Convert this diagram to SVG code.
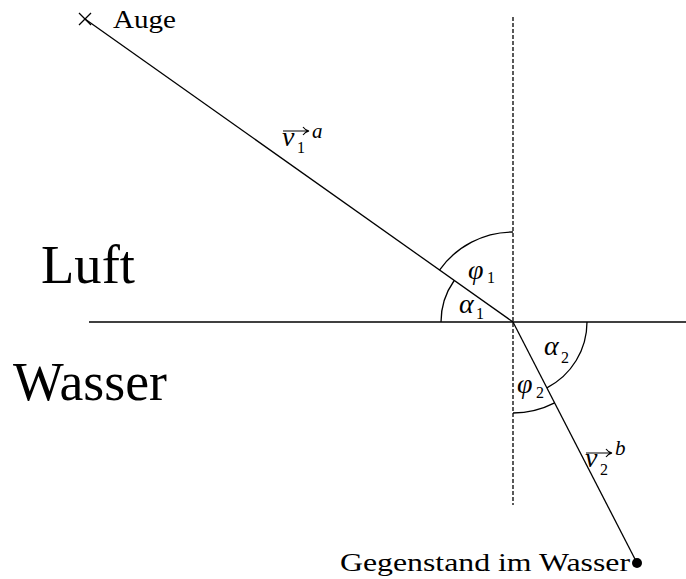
<svg xmlns="http://www.w3.org/2000/svg" width="686" height="579" viewBox="0 0 686 579">
<style>
  .ln{stroke:#000;stroke-width:1.3;fill:none}
  .dash{stroke:#000;stroke-width:1.3;fill:none;stroke-dasharray:4 2}
  .arc{stroke:#000;stroke-width:1.3;fill:none}
  .txt{fill:#000}
  .m{font-style:italic;fill:#000}
  .sub{fill:#000;font-size:16px}
  .vec{stroke:#000;stroke-width:1.1;fill:none}
</style>
<rect width="686" height="579" fill="#fff"/>
<g id="connectors">
  <line class="ln" x1="89" y1="322" x2="686" y2="322"/>
  <line class="dash" x1="513" y1="17" x2="513" y2="505"/>
  <line class="ln" x1="85" y1="19" x2="513" y2="322"/>
  <line class="ln" x1="513" y1="322" x2="637" y2="563"/>
</g>
<g id="angles">
  <path class="arc" d="M513 232 A90 90 0 0 0 439.5 270.1"/>
  <path class="arc" d="M441 322 A72 72 0 0 1 454.2 280.5"/>
  <path class="arc" d="M587 322 A74 74 0 0 1 546.9 387.8"/>
  <path class="arc" d="M513 413 A91 91 0 0 0 554.6 402.9"/>
</g>
<g id="auge" font-family="'Liberation Serif', 'DejaVu Serif', serif">
  <path class="ln" d="M79 13 L91 25 M79 25 L91 13"/>
  <text class="txt" x="113" y="28" font-size="25" textLength="63" lengthAdjust="spacingAndGlyphs">Auge</text>
</g>
<g id="gegenstand" font-family="'Liberation Serif', 'DejaVu Serif', serif">
  <circle cx="637" cy="563" r="5" fill="#000"/>
  <text class="txt" x="340" y="571" font-size="26" textLength="290" lengthAdjust="spacingAndGlyphs">Gegenstand im Wasser</text>
</g>
<g id="luft" font-family="'Liberation Serif', 'DejaVu Serif', serif">
  <text class="txt" x="41" y="283" font-size="55" textLength="94" lengthAdjust="spacingAndGlyphs">Luft</text>
</g>
<g id="wasser" font-family="'Liberation Serif', 'DejaVu Serif', serif">
  <text class="txt" x="13" y="400" font-size="55" textLength="154" lengthAdjust="spacingAndGlyphs">Wasser</text>
</g>
<g id="v1" font-family="'Liberation Serif', 'DejaVu Serif', serif">
  <path class="vec" d="M283 131 H308 M303 127 Q305 130 309 131 Q305 132 303 135"/>
  <text class="m" x="282" y="146" font-size="28">v</text>
  <text class="sub" x="297" y="153">1</text>
  <text class="m" x="312" y="138" font-size="21">a</text>
</g>
<g id="v2" font-family="'Liberation Serif', 'DejaVu Serif', serif">
  <path class="vec" d="M586 453 H611 M606 449 Q608 452 612 453 Q608 454 606 457"/>
  <text class="m" x="585" y="467" font-size="28">v</text>
  <text class="sub" x="600" y="475">2</text>
  <text class="m" x="615" y="455" font-size="21">b</text>
</g>
<g id="phi1" font-family="'Liberation Serif', 'DejaVu Serif', serif">
  <text class="m" x="468" y="279" font-size="28">φ</text>
  <text class="sub" x="487" y="283">1</text>
</g>
<g id="alpha1" font-family="'Liberation Serif', 'DejaVu Serif', serif">
  <text class="m" x="459" y="313" font-size="28">α</text>
  <text class="sub" x="476" y="319">1</text>
</g>
<g id="alpha2" font-family="'Liberation Serif', 'DejaVu Serif', serif">
  <text class="m" x="544" y="355" font-size="28">α</text>
  <text class="sub" x="561" y="363">2</text>
</g>
<g id="phi2" font-family="'Liberation Serif', 'DejaVu Serif', serif">
  <text class="m" x="517" y="393" font-size="28">φ</text>
  <text class="sub" x="536" y="398">2</text>
</g>
</svg>
